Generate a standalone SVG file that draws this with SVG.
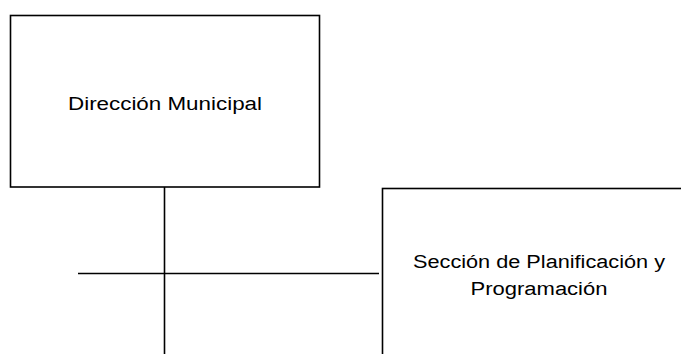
<svg xmlns="http://www.w3.org/2000/svg" width="681" height="354" viewBox="0 0 681 354">
<style>
.box{fill:#fff;stroke:#000;stroke-width:1.6}
.lbl{font-family:"Liberation Sans",Arial,sans-serif;font-size:18px;fill:#000;text-anchor:middle}
.conn{stroke:#000;stroke-width:1.6;fill:none}
</style>
<rect width="681" height="354" fill="#fff"/>
<g id="connectors">
<line class="conn" x1="164.5" y1="187" x2="164.5" y2="354"/>
<line class="conn" x1="78" y1="273.5" x2="379" y2="273.5"/>
</g>
<g id="direccion">
<rect class="box" x="10.5" y="15.5" width="309" height="171.5"/>
<text class="lbl" x="165" y="110" textLength="194" lengthAdjust="spacingAndGlyphs">Dirección Municipal</text>
</g>
<g id="seccion">
<rect class="box" x="382.5" y="188.5" width="320" height="180"/>
<text class="lbl" x="539" y="268" textLength="252" lengthAdjust="spacingAndGlyphs">Sección de Planificación y</text>
<text class="lbl" x="539" y="295" textLength="137" lengthAdjust="spacingAndGlyphs">Programación</text>
</g>
</svg>
